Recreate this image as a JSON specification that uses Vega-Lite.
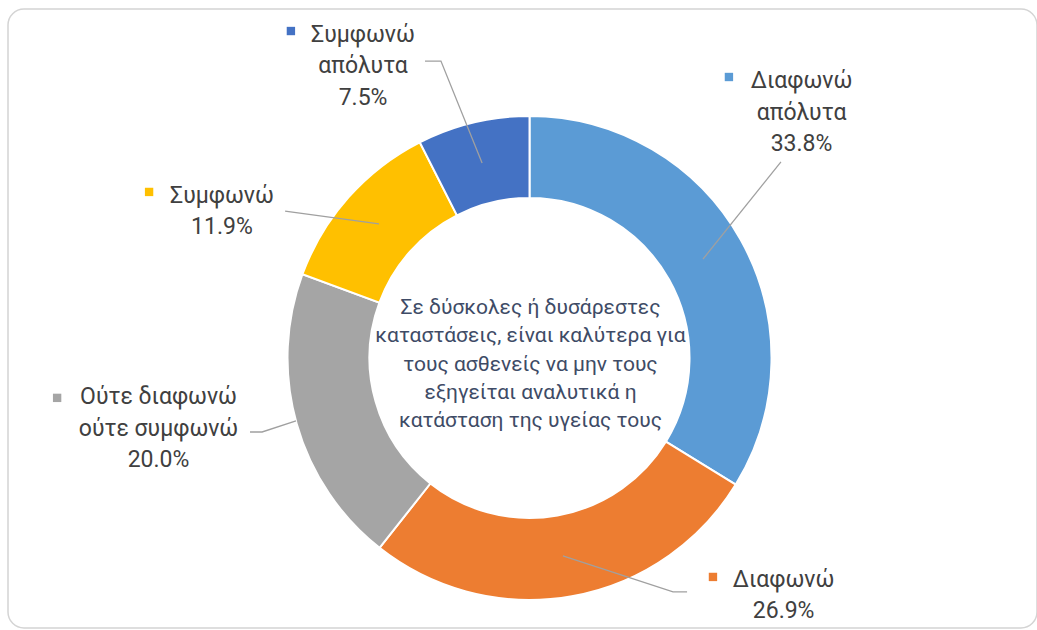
{
  "$schema": "https://vega.github.io/schema/vega-lite/v6.json",
  "width": 1037,
  "height": 630,
  "autosize": {"type": "fit", "contains": "padding"},
  "padding": {"left": 8, "top": 9, "right": 0, "bottom": 2},
  "background": "white",
  "config": {
    "view": {"stroke": "#D4D4D4", "strokeWidth": 1.5, "cornerRadius": 16},
    "font": "Roboto"
  },
  "datasets": {
    "slices": [
      {"cat": "Διαφωνώ απόλυτα", "value": 33.8, "k": 1},
      {"cat": "Διαφωνώ", "value": 26.9, "k": 2},
      {"cat": "Ούτε διαφωνώ ούτε συμφωνώ", "value": 20.0, "k": 3},
      {"cat": "Συμφωνώ", "value": 11.9, "k": 4},
      {"cat": "Συμφωνώ απόλυτα", "value": 7.5, "k": 5}
    ],
    "labels": [
      {"cat": "Διαφωνώ απόλυτα", "name": "Διαφωνώ\nαπόλυτα", "lu": 112.4, "lv": 114.4, "su": 82.4, "sv": 116.1},
      {"cat": "Διαφωνώ", "name": "Διαφωνώ", "lu": 105.0, "lv": -91.6, "su": 75.8, "sv": -90.5},
      {"cat": "Ούτε διαφωνώ ούτε συμφωνώ", "name": "Ούτε διαφωνώ\nούτε συμφωνώ", "lu": -153.3, "lv": -16.2, "su": -195.2, "sv": -16.5},
      {"cat": "Συμφωνώ", "name": "Συμφωνώ", "lu": -127.1, "lv": 67.1, "su": -157.2, "sv": 68.6},
      {"cat": "Συμφωνώ απόλυτα", "name": "Συμφωνώ\nαπόλυτα", "lu": -68.8, "lv": 133.5, "su": -98.6, "sv": 135.1}
    ],
    "leaders": [
      {"cat": "Συμφωνώ απόλυτα", "pt": 1, "u": -43.2, "v": 122.7},
      {"cat": "Συμφωνώ απόλυτα", "pt": 2, "u": -36.6, "v": 122.7},
      {"cat": "Συμφωνώ απόλυτα", "pt": 3, "u": -19.6, "v": 80.6},
      {"cat": "Διαφωνώ απόλυτα", "pt": 1, "u": 103.9, "v": 81.0},
      {"cat": "Διαφωνώ απόλυτα", "pt": 2, "u": 71.7, "v": 40.9},
      {"cat": "Συμφωνώ", "pt": 1, "u": -101.0, "v": 60.7},
      {"cat": "Συμφωνώ", "pt": 2, "u": -62.2, "v": 55.4},
      {"cat": "Ούτε διαφωνώ ούτε συμφωνώ", "pt": 1, "u": -115.5, "v": -30.6},
      {"cat": "Ούτε διαφωνώ ούτε συμφωνώ", "pt": 2, "u": -110.5, "v": -30.6},
      {"cat": "Ούτε διαφωνώ ούτε συμφωνώ", "pt": 3, "u": -96.5, "v": -26.0},
      {"cat": "Διαφωνώ", "pt": 1, "u": 13.8, "v": -81.8},
      {"cat": "Διαφωνώ", "pt": 2, "u": 59.3, "v": -96.7},
      {"cat": "Διαφωνώ", "pt": 3, "u": 65.1, "v": -96.7}
    ]
  },
  "layer": [
    {
      "data": {"name": "slices"},
      "mark": {"type": "arc", "outerRadius": 242, "innerRadius": 160, "stroke": "white", "strokeWidth": 2},
      "encoding": {
        "x": {"datum": 0, "type": "quantitative", "scale": {"domain": [-215.5, 209.7], "nice": false, "zero": false}, "axis": null},
        "y": {"datum": 0, "type": "quantitative", "scale": {"domain": [-111.6, 144.2], "nice": false, "zero": false}, "axis": null},
        "theta": {"field": "value", "type": "quantitative", "stack": true},
        "order": {"field": "k", "type": "quantitative"},
        "color": {
          "field": "cat", "type": "nominal", "legend": null,
          "scale": {
            "domain": ["Διαφωνώ απόλυτα", "Διαφωνώ", "Ούτε διαφωνώ ούτε συμφωνώ", "Συμφωνώ", "Συμφωνώ απόλυτα"],
            "range": ["#5B9BD5", "#ED7D31", "#A5A5A5", "#FFC000", "#4472C4"]
          }
        }
      }
    },
    {
      "data": {"name": "leaders"},
      "mark": {"type": "line", "color": "#A0A0A0", "strokeWidth": 1.3},
      "encoding": {
        "x": {"field": "u", "type": "quantitative", "axis": null},
        "y": {"field": "v", "type": "quantitative", "axis": null},
        "detail": {"field": "cat"},
        "order": {"field": "pt", "type": "quantitative"}
      }
    },
    {
      "data": {"name": "labels"},
      "mark": {"type": "point", "shape": "square", "filled": true, "size": 70, "opacity": 1},
      "encoding": {
        "x": {"field": "su", "type": "quantitative", "axis": null},
        "y": {"field": "sv", "type": "quantitative", "axis": null},
        "color": {"field": "cat", "type": "nominal", "legend": null}
      }
    },
    {
      "data": {"name": "labels"},
      "transform": [
        {"lookup": "cat", "from": {"data": {"name": "slices"}, "key": "cat", "fields": ["value"]}},
        {"calculate": "datum.name + '\\n' + format(datum.value, '.1f') + '%'", "as": "txt"}
      ],
      "mark": {"type": "text", "fontSize": 23, "lineHeight": 31.5, "align": "center", "baseline": "middle", "color": "#404040", "lineBreak": "\n"},
      "encoding": {
        "x": {"field": "lu", "type": "quantitative", "axis": null},
        "y": {"field": "lv", "type": "quantitative", "axis": null},
        "text": {"field": "txt"}
      }
    },
    {
      "data": {"values": [{"t": "center"}]},
      "mark": {"type": "text", "fontSize": 21, "lineHeight": 28.3, "align": "center", "baseline": "middle", "color": "#3E4B66"},
      "encoding": {
        "x": {"datum": 0.4, "type": "quantitative", "axis": null},
        "y": {"datum": 20.6, "type": "quantitative", "axis": null},
        "text": {"value": ["Σε δύσκολες ή δυσάρεστες", "καταστάσεις, είναι καλύτερα για", "τους ασθενείς να μην τους", "εξηγείται αναλυτικά η", "κατάσταση της υγείας τους"]}
      }
    }
  ]
}
